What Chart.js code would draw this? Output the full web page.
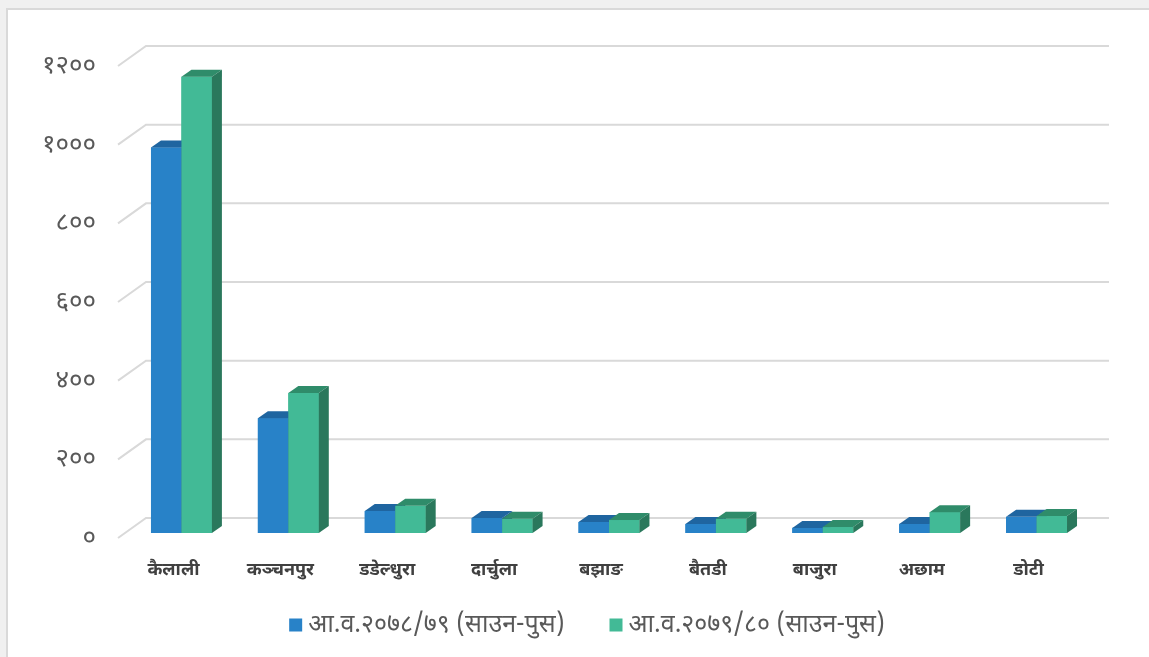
<!DOCTYPE html>
<html>
<head>
<meta charset="utf-8">
<script src="https://cdn.jsdelivr.net/npm/chart.js@4.4.1/dist/chart.umd.min.js"></script>
<style>
  html, body { margin: 0; padding: 0; background: #f0f0f0; }
  #panel {
    position: absolute; left: 6px; top: 8px; width: 1143px; height: 649px;
    background: #ffffff; border-left: 2px solid #d9d9d9; border-top: 2px solid #d9d9d9;
  }
  #chart { position: absolute; left: 0; top: 0; }
</style>
</head>
<body>
<div id="panel"></div>
<canvas id="chart" width="1149" height="657"></canvas>
<script>
  // ---------- Data ----------
  const districts = ["कैलाली", "कञ्चनपुर", "डडेल्धुरा", "दार्चुला", "बझाङ", "बैतडी", "बाजुरा", "अछाम", "डोटी"];
  const seriesNames = ["आ.व.२०७८/७९ (साउन-पुस)", "आ.व.२०७९/८० (साउन-पुस)"];
  const fy7879 = [980, 292, 56, 38, 28, 23, 13, 23, 41];
  const fy7980 = [1160, 356, 69, 36, 33, 36, 15, 53, 43];
  const yTickValues = [0, 200, 400, 600, 800, 1000, 1200];
  const yTickLabels = ["०", "२००", "४००", "६००", "८००", "१०००", "१२००"];

  const FONT = "'Noto Sans Devanagari', 'Noto Sans', 'DejaVu Sans', sans-serif";
  const TXT = "#595959";
  const GRID = "#d9d9d9";

  // face colours: front / top / side
  const faces = [
    { front: "#2882c8", top: "#1f65a0", side: "#1d5e94" },
    { front: "#42ba96", top: "#2f8c6a", side: "#2a785c" },
  ];
  const DEPTH_X = 10, DEPTH_Y = 7;

  // ---------- back wall grid (drawn behind bars) ----------
  const wallGrid = {
    id: "wallGrid",
    beforeDatasetsDraw(chart) {
      const { ctx, scales: { y }, chartArea } = chart;
      ctx.save();
      ctx.strokeStyle = GRID;
      ctx.lineWidth = 2;
      yTickValues.forEach((v) => {
        const py = y.getPixelForValue(v);
        ctx.beginPath();
        ctx.moveTo(chartArea.left - 10, py + 5);
        ctx.lineTo(chartArea.left + 18, py - 15);
        ctx.lineTo(chartArea.right + 19, py - 15);
        ctx.stroke();
      });
      ctx.restore();
    },
  };

  // ---------- 3D columns ----------
  const columns3d = {
    id: "columns3d",
    afterDatasetsDraw(chart) {
      const { ctx } = chart;
      const metas = [chart.getDatasetMeta(0), chart.getDatasetMeta(1)];
      ctx.save();
      for (let i = 0; i < districts.length; i++) {
        metas.forEach((meta, d) => {
          const bar = meta.data[i];
          if (!bar) return;
          const { x, y, base, width } = bar.getProps(["x", "y", "base", "width"], true);
          const l = x - width / 2, r = x + width / 2;
          const c = faces[d];
          // front
          ctx.fillStyle = c.front;
          ctx.fillRect(l, y, r - l, base - y);
          // top
          ctx.fillStyle = c.top;
          ctx.beginPath();
          ctx.moveTo(l, y);
          ctx.lineTo(l + DEPTH_X, y - DEPTH_Y);
          ctx.lineTo(r + DEPTH_X, y - DEPTH_Y);
          ctx.lineTo(r, y);
          ctx.closePath();
          ctx.fill();
          // side
          ctx.fillStyle = c.side;
          ctx.beginPath();
          ctx.moveTo(r, y);
          ctx.lineTo(r + DEPTH_X, y - DEPTH_Y);
          ctx.lineTo(r + DEPTH_X, base - DEPTH_Y);
          ctx.lineTo(r, base);
          ctx.closePath();
          ctx.fill();
        });
      }
      ctx.restore();
    },
  };

  // ---------- legend (bottom, centred at 587) ----------
  const bottomLegend = {
    id: "bottomLegend",
    afterDraw(chart) {
      const { ctx } = chart;
      const box = 13, gapText = 6, gapItem = 45, cy = 626;
      ctx.save();
      ctx.font = `25px ${FONT}`;
      ctx.textBaseline = "middle";
      const items = chart.data.datasets.map((ds) => ({ text: ds.label, color: ds.backgroundColor, w: ctx.measureText(ds.label).width }));
      const total = items.reduce((s, it) => s + box + gapText + it.w, 0) + gapItem * (items.length - 1);
      let x = 587 - total / 2;
      items.forEach((it) => {
        ctx.fillStyle = it.color;
        ctx.fillRect(x, cy - box / 2 - 1, box, box);
        ctx.fillStyle = TXT;
        ctx.fillText(it.text, x + box + gapText, cy + 1);
        x += box + gapText + it.w + gapItem;
      });
      ctx.restore();
    },
  };

  new Chart(document.getElementById("chart"), {
    type: "bar",
    data: {
      labels: districts,
      datasets: [
        { label: seriesNames[0], data: fy7879, backgroundColor: faces[0].front, borderWidth: 0 },
        { label: seriesNames[1], data: fy7980, backgroundColor: faces[1].front, borderWidth: 0 },
      ],
    },
    options: {
      responsive: false,
      animation: false,
      layout: { padding: { top: 61, left: 0, right: 59, bottom: 0 } },
      datasets: { bar: { categoryPercentage: 0.57, barPercentage: 1.0 } },
      plugins: {
        tooltip: { enabled: false },
        legend: { display: false },
      },
      scales: {
        x: {
          grid: { display: false },
          border: { display: false },
          ticks: {
            color: "#404040",
            font: { family: FONT, size: 18, weight: "bold" },
            labelOffset: -8,
            padding: 20,
            maxRotation: 0,
          },
          afterFit: (s) => { s.height = 124; },
        },
        y: {
          min: 0,
          max: 1200,
          grid: { display: false },
          border: { display: false },
          afterBuildTicks: (s) => { s.ticks = yTickValues.map((v) => ({ value: v })); },
          ticks: {
            color: TXT,
            font: { family: FONT, size: 26 },
            padding: 24,
            labelOffset: 7,
            callback: (v) => yTickLabels[yTickValues.indexOf(v)],
          },
          afterFit: (s) => { s.width = 128; },
        },
      },
    },
    plugins: [wallGrid, columns3d, bottomLegend],
  });
</script>
</body>
</html>
